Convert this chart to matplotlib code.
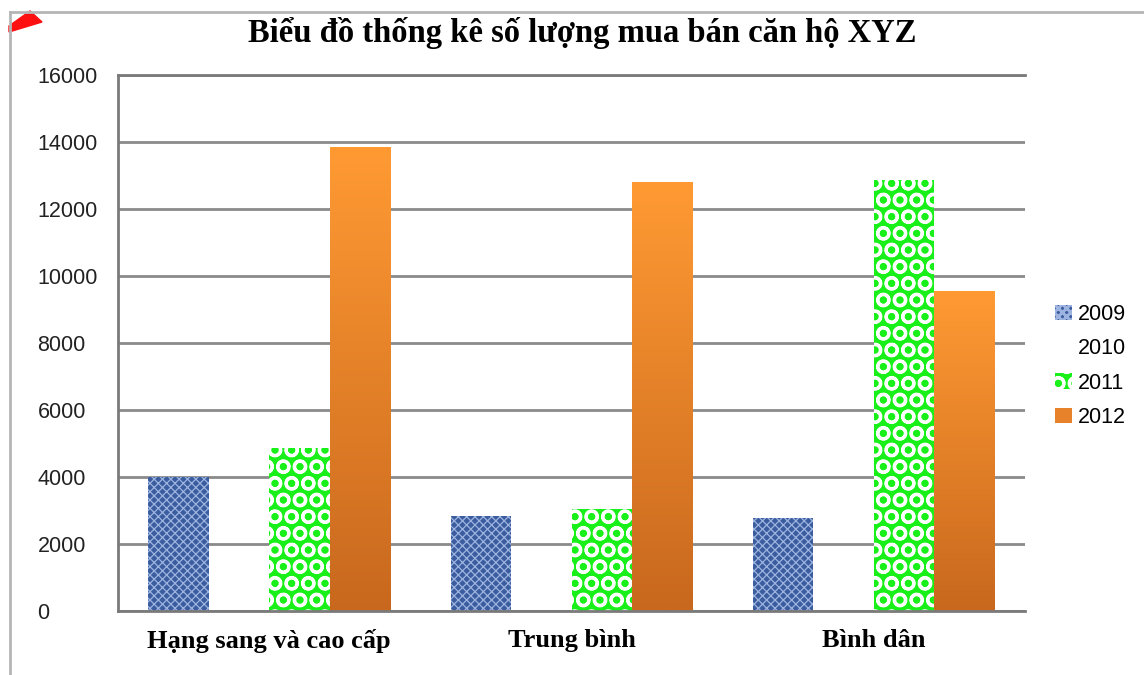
import numpy as np
import matplotlib.pyplot as plt
import matplotlib.patches as mpatches
from matplotlib.lines import Line2D
from matplotlib.colors import LinearSegmentedColormap

categories = ["Hạng sang và cao cấp", "Trung bình", "Bình dân"]
years = ["2009", "2010", "2011", "2012"]
v2009 = [4000, 2850, 2780]
v2010 = [0, 0, 0]
v2011 = [4870, 3050, 12870]
v2012 = [13850, 12800, 9550]
yticks = [0, 2000, 4000, 6000, 8000, 10000, 12000, 14000, 16000]

fig = plt.figure(figsize=(11.44, 6.75), dpi=100)
ax = fig.add_axes([118 / 1144, 1 - 611 / 675, (1025 - 118) / 1144, (611 - 75) / 675])

x = np.arange(len(categories))
w = 0.2
plt.rcParams["hatch.linewidth"] = 0.9
b09 = ax.bar(x - 1.5 * w, v2009, w, facecolor="#3B5C9E", edgecolor="#9DB4E0",
             hatch="xxxx", linewidth=0, zorder=2)
b10 = ax.bar(x - 0.5 * w, v2010, w, color="none", linewidth=0, zorder=2)
plt.rcParams["hatch.linewidth"] = 2.2
b11 = ax.bar(x + 0.5 * w, v2011, w, facecolor="#19F019", edgecolor="white",
             hatch="O", linewidth=0, zorder=2)
b12 = ax.bar(x + 1.5 * w, v2012, w, color="none", linewidth=0, zorder=2)

# gradient orange fill for 2012
grad = np.linspace(0, 1, 256).reshape(-1, 1)
cmap = LinearSegmentedColormap.from_list("org", ["#C8681E", "#FF9A33"])
for p in b12:
    x0, y0 = p.get_x(), p.get_y()
    im = ax.imshow(grad, extent=(x0, x0 + p.get_width(), y0, y0 + p.get_height()),
                   origin="lower", cmap=cmap, aspect="auto", zorder=2)
    im.set_clip_path(p)

ax.set_xlim(-0.5, 2.5)
ax.set_ylim(0, 16000)
ax.set_yticks(yticks)
ax.set_yticklabels([str(v) for v in yticks], fontsize=15.5, family="Liberation Sans",
                   color="#222222", ha="left")
ax.tick_params(axis="y", length=0, pad=58)
ax.set_xticks(x)
ax.set_xticklabels(categories, fontsize=19, family="Liberation Serif",
                   fontweight="bold")
ax.tick_params(axis="x", length=0, pad=13)

ax.yaxis.grid(True, color="#8A8A8A", linewidth=2.0, zorder=0)
ax.set_axisbelow(True)
ax.spines["right"].set_visible(False)
for s in ["left", "bottom", "top"]:
    ax.spines[s].set_color("#7A7A7A")
    ax.spines[s].set_linewidth(2.0)

fig.text(582 / 1144, 1 - 33 / 675, "Biểu đồ thống kê số lượng mua bán căn hộ XYZ",
         ha="center", va="center", fontsize=23.5, family="Liberation Serif",
         fontweight="bold")

handles = [b09[0], mpatches.Patch(color="none"), b11[0],
           mpatches.Patch(facecolor="#E8822A")]
fig.legend(handles, years, loc="center left", bbox_to_anchor=(1036 / 1144, 1 - 366 / 675),
           frameon=False, handlelength=0.75, handleheight=0.75,
           handletextpad=0.3, labelspacing=0.62,
           prop={"family": "Liberation Sans", "size": 15.5})

# outer chart-area border and comment marker
fig.add_artist(Line2D([10 / 1144, 10 / 1144], [0, 1 - 12 / 675], color="#B5B5B5", lw=2))
fig.add_artist(Line2D([10 / 1144, 1], [1 - 12 / 675, 1 - 12 / 675], color="#B5B5B5", lw=2))
tri = mpatches.Polygon([[9 / 1144, 1 - 32 / 675], [9 / 1144, 1 - 26 / 675],
                        [30 / 1144, 1 - 11 / 675], [42 / 1144, 1 - 22 / 675]],
                       closed=True, color="#FF1010")
fig.add_artist(tri)

fig.savefig("out.png", dpi=100)
